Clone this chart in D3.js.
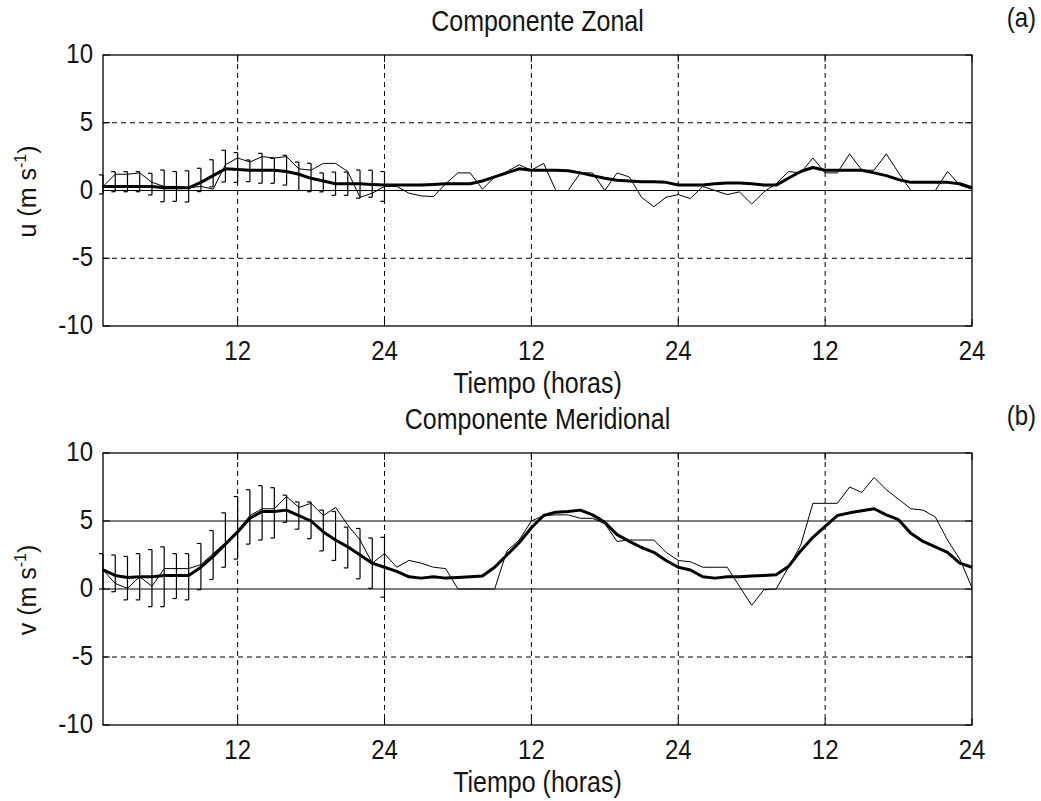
<!DOCTYPE html>
<html>
<head>
<meta charset="utf-8">
<script src="https://cdn.jsdelivr.net/npm/d3@7/dist/d3.min.js"></script>
<style>
    body { margin: 0; background: #ffffff; }
    text { font-family: "Liberation Sans", Arial, sans-serif; fill: #141414; }
</style>
</head>
<body>
<div id="chart"></div>
<script>
// hourly samples, three days (hour 1 .. 72)
const hours = d3.range(1, 73);
const barHours = d3.range(1, 25);

const tickHours = [12, 24, 36, 48, 60, 72];
const tickLabels = ["12", "24", "12", "24", "12", "24"];
const yTicks = [-10, -5, 0, 5, 10];

// zonal component u (m/s)
const thinU = [
    0.3, 1.2, 1.2, 1.3, 0.6, 0.3, 0.3, 0.2, 0.3, 0.1, 1.9, 2.4,
    2.1, 2.5, 2.4, 2.5, 1.6, 1.5, 2.0, 2.0, 1.4, -0.5, -0.2, 0.3,
    0.3, -0.2, -0.4, -0.45, 0.5, 1.3, 1.3, 0.1, 1.0, 1.4, 1.9, 1.5,
    2.0, 0.0, 0.0, 1.3, 1.3, 0.0, 1.3, 1.0, -0.5, -1.2, -0.5, -0.3,
    -0.6, 0.3, 0.0, -0.3, -0.1, -1.0, -0.1, 0.5, 1.4, 1.3, 2.4, 1.3,
    1.3, 2.7, 1.5, 1.5, 2.7, 1.3, 0.0, 0.0, 0.0, 1.4, 0.4, 0.1
];
const thickU = [
    0.3, 0.3, 0.3, 0.3, 0.3, 0.2, 0.2, 0.2, 0.6, 1.1, 1.6, 1.55,
    1.5, 1.5, 1.5, 1.4, 1.2, 0.9, 0.7, 0.5, 0.5, 0.5, 0.45, 0.4,
    0.4, 0.4, 0.4, 0.45, 0.5, 0.5, 0.5, 0.7, 1.0, 1.3, 1.6, 1.5,
    1.5, 1.5, 1.45, 1.3, 1.1, 0.9, 0.75, 0.7, 0.65, 0.65, 0.6, 0.4,
    0.4, 0.4, 0.5, 0.55, 0.55, 0.5, 0.4, 0.4, 0.9, 1.4, 1.7, 1.5,
    1.5, 1.5, 1.5, 1.3, 1.1, 0.8, 0.6, 0.6, 0.6, 0.6, 0.5, 0.2
];
const barMeanU = [
    0.45, 0.65, 0.65, 0.65, 0.47, 0.34, 0.3, 0.3, 0.78, 1.27, 1.8, 1.7,
    1.45, 1.64, 1.45, 1.5, 1.05, 0.96, 0.6, 0.5, 0.5, 0.47, 0.5, 0.3
];
const barStdU = [
    0.7, 0.74, 0.74, 0.74, 0.8, 1.17, 1.1, 1.15, 0.86, 1.0, 1.17, 1.1,
    0.8, 1.1, 0.92, 1.1, 1.05, 1.05, 0.7, 0.86, 0.86, 1.04, 1.0, 1.1
];

// meridional component v (m/s)
const thinV = [
    1.4, 0.4, 0.05, 0.9, 0.2, 1.5, 1.5, 1.5, 1.8, 2.6, 3.4, 4.3,
    5.4, 5.9, 5.9, 6.8, 6.0, 6.3, 5.4, 6.0, 4.7, 3.6, 1.9, 2.6,
    1.6, 2.1, 1.9, 1.6, 1.5, 0.0, 0.0, 0.0, 0.0, 2.8, 3.6, 5.0,
    5.4, 5.45, 5.45, 5.2, 5.2, 4.8, 3.5, 3.6, 3.6, 3.6, 2.7, 2.1,
    2.0, 1.6, 1.6, 1.6, 0.2, -1.2, -0.05, 0.0, 1.6, 3.2, 6.3, 6.3,
    6.3, 7.5, 7.1, 8.2, 7.3, 6.6, 5.9, 5.8, 5.3, 3.6, 2.2, 0.1
];
const thickV = [
    1.4, 1.0, 0.85, 0.9, 0.9, 1.0, 1.0, 1.0, 1.6, 2.4, 3.3, 4.2,
    5.2, 5.7, 5.7, 5.8, 5.4, 5.0, 4.2, 3.6, 3.1, 2.5, 1.9, 1.6,
    1.3, 0.9, 0.8, 0.9, 0.8, 0.85, 0.9, 0.95, 1.6, 2.5, 3.4, 4.5,
    5.4, 5.65, 5.7, 5.8, 5.45, 4.9, 4.0, 3.5, 3.05, 2.7, 2.1, 1.6,
    1.4, 0.9, 0.8, 0.9, 0.9, 0.95, 1.0, 1.05, 1.65, 2.8, 3.8, 4.6,
    5.4, 5.6, 5.75, 5.9, 5.45, 5.1, 4.1, 3.5, 3.1, 2.7, 1.9, 1.6
];
const barMeanV = [
    1.3, 1.15, 0.8, 0.9, 0.8, 0.9, 0.95, 0.9, 1.65, 2.5, 3.6, 4.5,
    5.3, 5.6, 5.6, 5.9, 5.4, 5.05, 4.3, 3.9, 3.05, 2.6, 1.9, 1.6
];
const barStdV = [
    1.3, 1.35, 1.6, 1.7, 2.1, 2.2, 1.65, 1.7, 1.7, 1.8, 2.0, 2.3,
    2.0, 2.0, 1.85, 1.0, 1.0, 1.35, 1.5, 1.8, 1.5, 1.85, 1.85, 2.2
];

class WindPanel {
    constructor(_config, _data) {
        this.config = {
            svg: _config.svg,
            top: _config.top,
            height: _config.height,
            title: _config.title,
            tag: _config.tag,
            yLabel: _config.yLabel,
            solidY: _config.solidY,
            dashedY: _config.dashedY,
        };
        this.margin = { left: 103, right: 972 };
        this.data = _data;
        this.initVis();
    }

    stretch(sel, x, y) {
        // the reference text is drawn taller than it is wide
        return sel.attr("transform", `translate(${x}, ${y}) scale(1, 1.15)`);
    }

    initVis() {
        let vis = this;
        let top = vis.config.top;
        let bottom = top + vis.config.height;
        vis.bottom = bottom;

        vis.xScale = d3.scaleLinear().domain([1, 72]).range([vis.margin.left, vis.margin.right]);
        vis.yScale = d3.scaleLinear().domain([-10, 10]).range([bottom, top]);

        vis.g = vis.config.svg.append("g");
        let g = vis.g;
        let cx = (vis.margin.left + vis.margin.right) / 2;

        // dashed grid
        g.selectAll(".vgrid")
            .data(tickHours.slice(0, -1))
            .join("line")
            .attr("class", "vgrid")
            .attr("x1", (d) => vis.xScale(d))
            .attr("x2", (d) => vis.xScale(d))
            .attr("y1", top)
            .attr("y2", bottom)
            .attr("stroke", "#000")
            .attr("stroke-width", 1)
            .attr("stroke-dasharray", "5,4");
        g.selectAll(".hgrid")
            .data(vis.config.dashedY)
            .join("line")
            .attr("class", "hgrid")
            .attr("x1", vis.margin.left)
            .attr("x2", vis.margin.right)
            .attr("y1", (d) => vis.yScale(d))
            .attr("y2", (d) => vis.yScale(d))
            .attr("stroke", "#000")
            .attr("stroke-width", 1)
            .attr("stroke-dasharray", "5,4");
        g.selectAll(".hsolid")
            .data(vis.config.solidY)
            .join("line")
            .attr("class", "hsolid")
            .attr("x1", vis.margin.left)
            .attr("x2", vis.margin.right)
            .attr("y1", (d) => vis.yScale(d))
            .attr("y2", (d) => vis.yScale(d))
            .attr("stroke", "#000")
            .attr("stroke-width", 1);

        // inward ticks on all four sides
        let tickLen = 7;
        tickHours.forEach((h) => {
            let x = vis.xScale(h);
            g.append("line").attr("x1", x).attr("x2", x).attr("y1", bottom).attr("y2", bottom - tickLen).attr("stroke", "#000");
            g.append("line").attr("x1", x).attr("x2", x).attr("y1", top).attr("y2", top + tickLen).attr("stroke", "#000");
        });
        yTicks.forEach((v) => {
            let y = vis.yScale(v);
            g.append("line").attr("x1", vis.margin.left).attr("x2", vis.margin.left + tickLen).attr("y1", y).attr("y2", y).attr("stroke", "#000");
            g.append("line").attr("x1", vis.margin.right).attr("x2", vis.margin.right - tickLen).attr("y1", y).attr("y2", y).attr("stroke", "#000");
        });

        // tick labels
        g.selectAll(".xlab")
            .data(tickHours)
            .join("text")
            .attr("class", "xlab")
            .attr("text-anchor", "middle")
            .attr("font-size", "24px")
            .text((d, i) => tickLabels[i])
            .each(function (d) {
                vis.stretch(d3.select(this), vis.xScale(d), bottom + 34);
            });
        g.selectAll(".ylab")
            .data(yTicks)
            .join("text")
            .attr("class", "ylab")
            .attr("text-anchor", "end")
            .attr("font-size", "24px")
            .text((d) => d)
            .each(function (d) {
                vis.stretch(d3.select(this), 93, vis.yScale(d) + 8);
            });

        // titles
        vis.stretch(g.append("text"), cx, top - 24)
            .attr("text-anchor", "middle")
            .attr("font-size", "25px")
            .text(vis.config.title);
        vis.stretch(g.append("text"), 1036, top - 28)
            .attr("text-anchor", "end")
            .attr("font-size", "24px")
            .text(vis.config.tag);
        vis.stretch(g.append("text"), cx, bottom + 67)
            .attr("text-anchor", "middle")
            .attr("font-size", "25px")
            .text("Tiempo (horas)");

        let yl = g.append("text")
            .attr("transform", `translate(36, ${(top + bottom) / 2 + 1}) rotate(-90)`)
            .attr("text-anchor", "middle")
            .attr("font-size", "25px");
        yl.append("tspan").text(vis.config.yLabel + " (m s");
        yl.append("tspan").text("-1").attr("font-size", "16px").attr("dy", -10);
        yl.append("tspan").text(")").attr("dy", 10);

        vis.renderVis();
    }

    renderVis() {
        let vis = this;
        let g = vis.g;

        let line = d3.line()
            .x((d) => vis.xScale(d.h))
            .y((d) => vis.yScale(d.v));

        let thin = hours.map((h, i) => ({ h: h, v: vis.data.thin[i] }));
        let thick = hours.map((h, i) => ({ h: h, v: vis.data.thick[i] }));
        let bars = barHours.map((h, i) => ({ h: h, m: vis.data.barMean[i], s: vis.data.barStd[i] }));

        g.append("path")
            .datum(thin)
            .attr("d", line)
            .attr("fill", "none")
            .attr("stroke", "#000")
            .attr("stroke-width", 1);

        // error bars (mean +- std for the first day)
        let eb = g.selectAll(".ebar")
            .data(bars)
            .join("g")
            .attr("class", "ebar");
        eb.append("line")
            .attr("x1", (d) => vis.xScale(d.h))
            .attr("x2", (d) => vis.xScale(d.h))
            .attr("y1", (d) => vis.yScale(d.m - d.s))
            .attr("y2", (d) => vis.yScale(d.m + d.s))
            .attr("stroke", "#000")
            .attr("stroke-width", 1.2);
        eb.append("line")
            .attr("x1", (d) => vis.xScale(d.h) - 4)
            .attr("x2", (d) => vis.xScale(d.h))
            .attr("y1", (d) => vis.yScale(d.m + d.s))
            .attr("y2", (d) => vis.yScale(d.m + d.s))
            .attr("stroke", "#000")
            .attr("stroke-width", 1.2);
        eb.append("line")
            .attr("x1", (d) => vis.xScale(d.h) - 4)
            .attr("x2", (d) => vis.xScale(d.h))
            .attr("y1", (d) => vis.yScale(d.m - d.s))
            .attr("y2", (d) => vis.yScale(d.m - d.s))
            .attr("stroke", "#000")
            .attr("stroke-width", 1.2);

        g.append("path")
            .datum(thick)
            .attr("d", line)
            .attr("fill", "none")
            .attr("stroke", "#000")
            .attr("stroke-width", 3)
            .attr("stroke-linejoin", "round");

        // frame
        g.append("rect")
            .attr("x", vis.margin.left)
            .attr("y", vis.config.top)
            .attr("width", vis.margin.right - vis.margin.left)
            .attr("height", vis.config.height)
            .attr("fill", "none")
            .attr("stroke", "#000")
            .attr("stroke-width", 1.3);
    }
}

const svg = d3.select("#chart")
    .append("svg")
    .attr("width", 1041)
    .attr("height", 801);

new WindPanel(
    {
        svg: svg, top: 55, height: 271,
        title: "Componente Zonal", tag: "(a)", yLabel: "u",
        solidY: [0], dashedY: [-5, 5],
    },
    { thin: thinU, thick: thickU, barMean: barMeanU, barStd: barStdU }
);
new WindPanel(
    {
        svg: svg, top: 453, height: 272,
        title: "Componente Meridional", tag: "(b)", yLabel: "v",
        solidY: [0, 5], dashedY: [-5],
    },
    { thin: thinV, thick: thickV, barMean: barMeanV, barStd: barStdV }
);
</script>
</body>
</html>
